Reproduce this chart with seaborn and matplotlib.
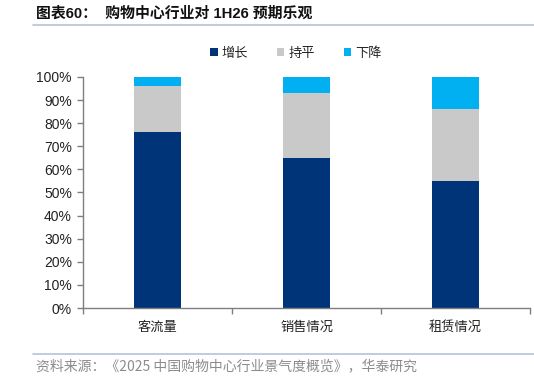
import matplotlib
matplotlib.use("Agg")
import matplotlib.pyplot as plt
import seaborn as sns
import pandas as pd
from matplotlib.lines import Line2D
from matplotlib.patches import Patch
from matplotlib.ticker import FuncFormatter, FixedLocator

categories = ["客流量", "销售情况", "租赁情况"]
series_names = ["增长", "持平", "下降"]
growth = [76, 65, 55]
flat = [20, 28, 31]
decline = [4, 7, 14]
colors = ["#003478", "#C9C9C9", "#00B0F0"]
title = "图表60：  购物中心行业对 1H26 预期乐观"
source = "资料来源：《2025 中国购物中心行业景气度概览》，华泰研究"

sns.set_theme(style="white")
plt.rcParams["font.family"] = ["Liberation Sans", "Noto Sans CJK SC", "DejaVu Sans"]

df = pd.DataFrame({"cat": categories, "增长": growth, "持平": flat, "下降": decline})
df["c1"] = df["增长"] / 100
df["c2"] = (df["增长"] + df["持平"]) / 100
df["c3"] = (df["增长"] + df["持平"] + df["下降"]) / 100

fig = plt.figure(figsize=(5.34, 3.78), dpi=100)
ax = fig.add_axes([83/534, 1-308/378, (530-83)/534, (308-77)/378])

for col, c in zip(["c3", "c2", "c1"], [colors[2], colors[1], colors[0]]):
    sns.barplot(data=df, x="cat", y=col, color=c, width=0.31, ax=ax,
                saturation=1, linewidth=0, errorbar=None)

ax.set_ylim(0, 1)
ax.set_xlim(-0.5, 2.5)
ax.set_yticks([i/10 for i in range(11)])
ax.yaxis.set_major_formatter(FuncFormatter(lambda v, p: f"{v*100:.0f}%"))
ax.set_xlabel("")
ax.set_ylabel("")
for s in ["top", "right"]:
    ax.spines[s].set_visible(False)
for s in ["left", "bottom"]:
    ax.spines[s].set_color("#7F7F7F")
    ax.spines[s].set_linewidth(1.0)
ax.tick_params(axis="y", which="major", direction="out", length=4, width=1, color="#7F7F7F",
               labelsize=10, pad=4, left=True)
ax.tick_params(axis="x", which="major", length=0, pad=9)
ax.xaxis.set_minor_locator(FixedLocator([-0.5, 0.5, 1.5, 2.5]))
ax.tick_params(axis="x", which="minor", direction="out", length=4, width=1, color="#7F7F7F", bottom=True)
for lbl in ax.get_xticklabels():
    lbl.set_fontfamily(["Noto Sans CJK SC", "DejaVu Sans"])
    lbl.set_fontsize(9.5)
    lbl.set_color("#222222")
for lbl in ax.get_yticklabels():
    lbl.set_color("#222222")

handles = [Patch(facecolor=c, edgecolor="none", label=n) for c, n in zip(colors, series_names)]
leg = fig.legend(handles=handles, loc="center", bbox_to_anchor=(296/534, 1-53/378), ncol=3,
                 frameon=False, handlelength=0.55, handleheight=0.55, handletextpad=0.3,
                 columnspacing=2.2, prop={"family": ["Noto Sans CJK SC", "DejaVu Sans"], "size": 9.5})

fig.text(36/534, 1-14/378, title, fontsize=10.7, fontweight="bold", va="center", ha="left",
         family=["Liberation Sans", "Noto Sans CJK SC", "DejaVu Sans"], color="#111111")
fig.add_artist(Line2D([33/534, 1.0], [1-25/378, 1-25/378], color="#B4C4D8", lw=1.2))
fig.add_artist(Line2D([33/534, 1.0], [1-354/378, 1-354/378], color="#B4C4D8", lw=1.2))
fig.text(36/534, 1-366/378, source, fontsize=10, va="center", ha="left",
         family=["Noto Sans CJK SC", "DejaVu Sans"], color="#8C8C8C")

fig.savefig("out.png", dpi=100)
